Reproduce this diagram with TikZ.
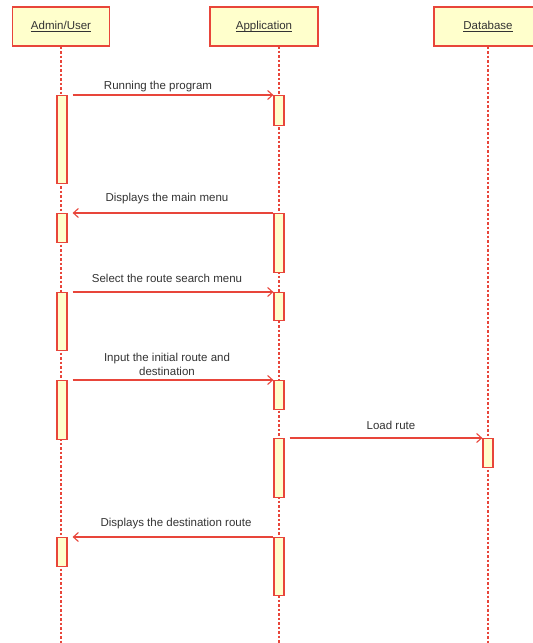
\documentclass[tikz,border=0pt]{standalone}
\usepackage{fontspec}
\setmainfont{Liberation Sans}
\usetikzlibrary{arrows.meta}
\definecolor{umlred}{HTML}{E8453A}
\definecolor{umlfill}{HTML}{FFFFCC}
\definecolor{umltext}{HTML}{333333}
% underline sitting just under the baseline, whatever the descenders
\newcommand{\headtitle}[1]{\raisebox{-2pt}{\underline{\smash{#1}\vphantom{A}}}}
\tikzset{
  header/.style={draw=umlred, fill=umlfill, line width=1.3pt, minimum height=39pt,
    inner sep=0pt, font=\fontsize{11.5}{13}\selectfont, text=umltext},
  lifeline/.style={draw=umlred, line width=1.1pt, dash pattern=on 2.5pt off 2pt},
  actbox/.style={draw=umlred, fill=umlfill, line width=1.2pt, minimum width=10pt,
    inner sep=0pt, anchor=north},
  msg/.style={draw=umlred, line width=1.1pt, -{Straight Barb[length=5pt,width=9pt]}},
  msglabel/.style={font=\fontsize{11.5}{14.5}\selectfont, text=umltext, align=center, inner sep=0pt}
}
\begin{document}
\begin{tikzpicture}[x=1pt, y=-1pt]
\useasboundingbox (0,0) rectangle (533,643);
\clip (0,0) rectangle (533,643);

% participants
\node[header, minimum width=97pt] (admin) at (61,26.5) {\headtitle{Admin/User}};
\node[header, minimum width=108pt] (app) at (264,26.5) {\headtitle{Application}};
\node[header, minimum width=108pt] (db) at (488,26.5) {\headtitle{Database}};

% lifeline ends
\coordinate (adminEnd) at (61,645);
\coordinate (appEnd) at (279,645);
\coordinate (dbEnd) at (488,645);

\draw[lifeline] (admin.south) -- (adminEnd);
\draw[lifeline] (279,46) -- (appEnd);
\draw[lifeline] (db.south) -- (dbEnd);

% activation bars: Admin/User
\node[actbox, minimum height=88pt] (a1) at (62,95) {};
\node[actbox, minimum height=29pt] (a2) at (62,213) {};
\node[actbox, minimum height=58pt] (a3) at (62,292) {};
\node[actbox, minimum height=59pt] (a4) at (62,380) {};
\node[actbox, minimum height=29pt] (a6) at (62,537) {};

% activation bars: Application
\node[actbox, minimum height=30pt] (p1) at (279,95) {};
\node[actbox, minimum height=59pt] (p2) at (279,213) {};
\node[actbox, minimum height=28pt] (p3) at (279,292) {};
\node[actbox, minimum height=29pt] (p4) at (279,380) {};
\node[actbox, minimum height=59pt] (p5) at (279,438) {};
\node[actbox, minimum height=58pt] (p6) at (279,537) {};

% activation bar: Database
\node[actbox, minimum height=29pt] (d5) at (488,438) {};

% messages
\draw[msg] ([xshift=5pt]a1.north east) -- (p1.north west);
\node[msglabel] (m1) at (158,86.5) {Running the program};

\draw[msg] (p2.north west) -- ([xshift=5pt]a2.north east);
\node[msglabel] (m2) at (167,199) {Displays the main menu};

\draw[msg] ([xshift=5pt]a3.north east) -- (p3.north west);
\node[msglabel] (m3) at (167,278) {Select the route search menu};

\draw[msg] ([xshift=5pt]a4.north east) -- (p4.north west);
\node[msglabel] (m4) at (167,364.5) {Input the initial route and\\destination};

\draw[msg] ([xshift=5pt]p5.north east) -- (d5.north west);
\node[msglabel] (m5) at (391,425.5) {Load rute};

\draw[msg] (p6.north west) -- ([xshift=5pt]a6.north east);
\node[msglabel] (m6) at (176,523.5) {Displays the destination route};
\end{tikzpicture}
\end{document}
